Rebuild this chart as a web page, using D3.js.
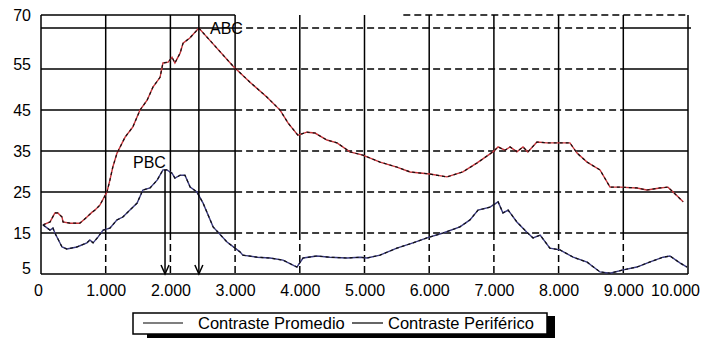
<!DOCTYPE html>
<html>
<head>
<meta charset="utf-8">
<script src="https://cdn.jsdelivr.net/npm/d3@7"></script>
<style>
  body { margin: 0; background: #fff; }
  svg { display: block; font-family: "Liberation Sans", Arial, sans-serif; }
  .axis text { font-size: 16px; fill: #000; }
  .grid { stroke: #000; stroke-width: 1.5; fill: none; }
  .dash { stroke-dasharray: 7,4; }
</style>
</head>
<body>
<svg id="chart" width="703" height="338"></svg>
<script>
// x values are distances, y values contrast
var perifX = [30,140,215,260,325,340,450,600,710,790,835,910,1020,1065,1110,1175,1300,1420,1530,1640,1730,1840,1885,1965,2025,2070,2150,2195,2300,2440,2565,2970,3230,3490,3695,3820,3970,4110,4235,4420,4575,4775,4975,5240,5500,5705,6010,6275,6520,6740,6985,7065,7170,7250,7355,7450,7525,7665,7820,8020,8175,8285,8440,8640,8795,8950,9210,9365,9565,9690,9770,9925];
var perifY = [17.0,17.7,19.9,19.9,18.9,17.7,17.4,17.4,18.9,20.1,20.6,21.8,25.0,27.9,31.1,34.5,38.4,40.9,45.0,47.4,50.6,53.0,56.5,56.7,57.9,56.5,58.9,61.3,62.6,65.0,62.8,55.7,51.8,48.2,45.0,41.8,38.9,39.6,39.4,37.7,37.0,34.8,34.0,32.3,31.1,29.9,29.4,28.7,29.9,32.1,34.8,36.0,35.2,36.0,34.8,36.0,34.8,37.2,37.0,37.0,37.0,34.5,32.3,30.4,26.2,26.2,26.0,25.5,26.0,26.2,25.0,22.6];

var promX = [30,140,185,215,325,400,555,710,755,805,880,960,1065,1175,1265,1375,1485,1575,1685,1795,1885,1945,2025,2070,2150,2225,2305,2410,2505,2660,2875,3075,3120,3340,3540,3740,3955,4050,4265,4465,4730,4930,5040,5240,5500,5750,5965,6215,6475,6630,6755,6940,7065,7140,7220,7355,7510,7605,7715,7865,8020,8225,8440,8640,8795,9000,9210,9405,9615,9720,9875,9985];
var promY = [17.0,15.7,16.2,15.0,11.6,11.1,11.6,12.6,13.3,12.6,14.0,15.7,16.2,18.2,18.9,20.6,22.3,25.5,26.0,27.9,30.4,30.4,29.6,28.4,29.1,29.1,26.2,25.0,22.3,16.5,12.8,10.4,9.6,9.1,8.9,8.4,6.7,8.9,9.4,9.1,8.9,9.1,8.9,9.6,11.3,12.6,13.8,15.0,16.5,18.2,20.6,21.3,22.6,19.9,20.6,17.7,15.2,13.8,14.5,11.3,10.9,9.1,7.9,5.5,5.2,6.0,6.7,7.9,9.1,9.4,7.7,6.7];

var xTicks = [0,1000,2000,3000,4000,5000,6000,7000,8000,9000,10000];
var xTickLabels = ["0","1.000","2.000","3.000","4.000","5.000","6.000","7.000","8.000","9.000","10.000"];
var yTicks = [5,15,25,35,45,55,68.2];
var yTickLabels = ["5","15","25","35","45","55","70"];
var yGrid = [15,25,35,45,55,65];
var seriesNames = ["Contraste Promedio","Contraste Periférico"];

var svg = d3.select("#chart");
var x = d3.scaleLinear().domain([0, 10000]).range([41, 688]);
var y = d3.scaleLinear().domain([5, 68.2]).range([274, 15]);

var g = svg.append("g");

// horizontal grid: solid on the left and right, dashed in the middle
yGrid.forEach(function(v) {
  g.append("line").attr("class", "grid")
    .attr("x1", x(0)).attr("x2", x(3000)).attr("y1", y(v)).attr("y2", y(v));
  g.append("line").attr("class", "grid dash")
    .attr("x1", x(3000)).attr("x2", x(9000)).attr("y1", y(v)).attr("y2", y(v));
  g.append("line").attr("class", "grid")
    .attr("x1", x(9000)).attr("x2", v == 65 ? x(10000) + 3 : x(10000)).attr("y1", y(v)).attr("y2", y(v));
});

// top border (partly missing in the original scan)
g.append("line").attr("class", "grid")
  .attr("x1", x(0)).attr("x2", x(3000)).attr("y1", y(68.2)).attr("y2", y(68.2));
g.append("line").attr("class", "grid dash")
  .attr("x1", x(5600)).attr("x2", x(10000)).attr("y1", y(68.2)).attr("y2", y(68.2));

// vertical grid: solid above 15, dashed below
xTicks.slice(1, -1).forEach(function(v) {
  g.append("line").attr("class", "grid")
    .attr("x1", x(v)).attr("x2", x(v)).attr("y1", y(68.2)).attr("y2", y(15));
  g.append("line").attr("class", "grid dash")
    .attr("x1", x(v)).attr("x2", x(v)).attr("y1", y(15)).attr("y2", y(5));
});

// frame
g.append("line").attr("class", "grid")
  .attr("x1", x(0)).attr("x2", x(0)).attr("y1", y(68.2)).attr("y2", y(5));
g.append("line").attr("class", "grid")
  .attr("x1", x(10000)).attr("x2", x(10000)).attr("y1", y(68.2)).attr("y2", y(5));
g.append("line").attr("class", "grid")
  .attr("x1", x(0)).attr("x2", x(10000)).attr("y1", y(5)).attr("y2", y(5));

// lines
var line = d3.line()
  .x(function(d) { return x(d[0]); })
  .y(function(d) { return y(d[1]); });

var perif = d3.zip(perifX, perifY);
var prom = d3.zip(promX, promY);

[[perif, "#c8343a"], [prom, "#3a3a80"]].forEach(function(s) {
  g.append("path").attr("d", line(s[0]))
    .attr("fill", "none").attr("stroke", s[1]).attr("stroke-width", 1.4);
  g.append("path").attr("d", line(s[0]))
    .attr("fill", "none").attr("stroke", "#111").attr("stroke-width", 1.2)
    .attr("stroke-dasharray", "3,3");
});

// arrows to the axis
var arrows = [[1917, 30.4], [2440, 68.2]];
arrows.forEach(function(a) {
  var ax = x(a[0]), yb = y(5);
  g.append("line").attr("class", "grid").attr("stroke-width", 1.3)
    .attr("x1", ax).attr("x2", ax).attr("y1", y(a[1])).attr("y2", yb);
  g.append("path").attr("class", "grid").attr("stroke-width", 1.3)
    .attr("d", "M" + (ax - 4) + "," + (yb - 9) + "L" + ax + "," + yb + "L" + (ax + 4) + "," + (yb - 9));
});

g.append("text").attr("x", x(2612)).attr("y", y(65)).attr("dy", "0.35em")
  .style("font-size", "16px").text("ABC");
g.append("text").attr("x", x(1422)).attr("y", y(32.3)).attr("dy", "0.35em")
  .style("font-size", "16px").text("PBC");

// axes
var xAxis = g.append("g").attr("class", "axis")
  .attr("transform", "translate(0," + y(5) + ")")
  .call(d3.axisBottom(x).tickValues(xTicks).tickSize(0).tickPadding(11)
    .tickFormat(function(d, i) { return xTickLabels[i]; }));
xAxis.select(".domain").remove();
xAxis.selectAll("text").attr("dx", function(d, i) {
  return i == 0 ? -3 : (i == xTicks.length - 1 ? -13 : 0);
});

var yAxis = g.append("g").attr("class", "axis")
  .attr("transform", "translate(" + x(0) + ",0)")
  .call(d3.axisLeft(y).tickValues(yTicks).tickSize(0).tickPadding(10)
    .tickFormat(function(d, i) { return yTickLabels[i]; }));
yAxis.select(".domain").remove();
yAxis.selectAll("text").attr("dy", function(d, i) {
  return i == 0 ? "-0.05em" : (i == 5 ? "0.0em" : "0.32em");
});

// legend with shadow
var lg = svg.append("g");
lg.append("rect").attr("x", 147).attr("y", 316).attr("width", 408).attr("height", 30).attr("fill", "#000");
lg.append("rect").attr("x", 133).attr("y", 313).attr("width", 414).attr("height", 21)
  .attr("fill", "#fff").attr("stroke", "#000").attr("stroke-width", 1.5);
var items = [[143, 183, 198], [352, 383, 388]];
items.forEach(function(it, i) {
  lg.append("line").attr("x1", it[0]).attr("x2", it[1]).attr("y1", 323).attr("y2", 323)
    .attr("stroke", "#000").attr("stroke-width", 1.2);
  lg.append("text").attr("x", it[2]).attr("y", 329).style("font-size", "16.5px")
    .text(seriesNames[i]);
});
</script>
</body>
</html>
